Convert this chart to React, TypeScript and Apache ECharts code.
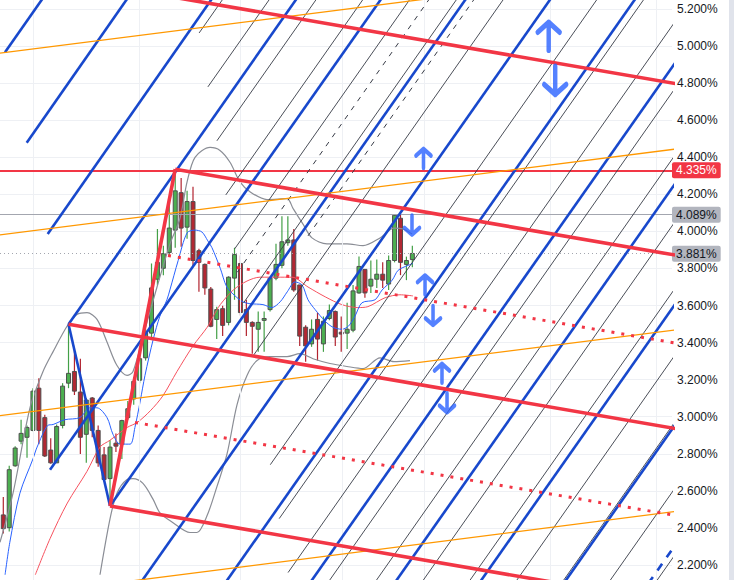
import React, { useEffect, useRef } from "react";
import * as echarts from "echarts";

// ---- candles (weekly yield, %) ----
const opens = [2.470, 2.401, 2.735, 2.868, 2.889, 2.926, 3.154, 2.995, 2.820, 2.751, 2.953, 3.181, 3.244, 3.133, 2.905, 3.101, 2.926, 2.794, 2.666, 2.857, 2.852, 2.995, 3.096, 3.197, 3.318, 3.451, 3.742, 3.801, 3.886, 4.007, 4.209, 4.023, 4.161, 3.896, 3.822, 3.689, 3.525, 3.583, 3.509, 3.748, 3.827, 3.578, 3.509, 3.472, 3.520, 3.578, 3.748, 3.817, 3.939, 3.954, 3.711, 3.483, 3.393, 3.525, 3.393, 3.530, 3.568, 3.456, 3.451, 3.467, 3.668, 3.795, 3.705, 3.742, 3.769, 3.716, 3.843, 4.071, 3.822, 3.848];
const closes = [2.396, 2.714, 2.831, 2.910, 2.942, 3.138, 2.926, 2.788, 2.751, 2.947, 3.165, 3.234, 3.138, 2.889, 3.090, 2.926, 2.751, 2.661, 2.836, 2.841, 2.979, 3.043, 3.191, 3.313, 3.451, 3.695, 3.833, 3.880, 4.018, 4.219, 4.018, 4.161, 3.843, 3.833, 3.695, 3.488, 3.578, 3.493, 3.753, 3.875, 3.562, 3.509, 3.488, 3.509, 3.530, 3.748, 3.822, 3.944, 3.954, 3.684, 3.435, 3.382, 3.472, 3.419, 3.515, 3.573, 3.430, 3.446, 3.472, 3.679, 3.811, 3.668, 3.742, 3.769, 3.737, 3.843, 4.087, 3.833, 3.843, 3.881];
const lows = [2.370, 2.380, 2.730, 2.852, 2.778, 2.921, 2.852, 2.783, 2.746, 2.751, 2.937, 3.154, 3.117, 2.799, 2.751, 2.889, 2.730, 2.651, 2.518, 2.810, 2.772, 2.984, 3.064, 3.181, 3.303, 3.419, 3.711, 3.764, 3.864, 3.912, 3.917, 3.960, 3.811, 3.674, 3.658, 3.483, 3.419, 3.435, 3.493, 3.631, 3.546, 3.435, 3.340, 3.350, 3.350, 3.568, 3.737, 3.801, 3.923, 3.674, 3.382, 3.297, 3.377, 3.303, 3.350, 3.520, 3.382, 3.350, 3.366, 3.456, 3.663, 3.642, 3.668, 3.695, 3.695, 3.684, 3.833, 3.764, 3.737, 3.806];
const highs = [2.566, 2.735, 2.841, 2.984, 2.953, 3.154, 3.207, 3.011, 2.884, 2.958, 3.181, 3.499, 3.366, 3.313, 3.101, 3.106, 2.953, 2.836, 2.873, 2.910, 2.984, 3.085, 3.212, 3.340, 3.472, 3.827, 4.013, 3.923, 4.177, 4.336, 4.288, 4.219, 4.241, 3.907, 3.827, 3.700, 3.594, 3.599, 3.758, 3.912, 3.870, 3.631, 3.515, 3.568, 3.568, 3.753, 3.933, 4.082, 4.082, 4.013, 3.711, 3.493, 3.525, 3.562, 3.541, 3.605, 3.573, 3.541, 3.615, 3.711, 3.864, 3.795, 3.843, 3.848, 3.833, 3.870, 4.089, 4.089, 3.864, 3.923];

// ---- indicators [bar index, value] ----
const fastMA = [[0.3, 2.147], [1.1, 2.322], [2.8, 2.587], [5.0, 2.772], [5.7, 2.836], [7.5, 2.953], [8.4, 2.958], [10.4, 2.984], [12.9, 2.995], [14.6, 3.048], [15.8, 3.048], [17.5, 2.995], [18.5, 2.905], [19.7, 2.852], [21.4, 2.852], [22.2, 2.942], [23.1, 3.085], [23.9, 3.223], [25.3, 3.419], [26.4, 3.541], [27.6, 3.631], [28.1, 3.684], [29.5, 3.843], [31.0, 3.992], [32.3, 4.007], [33.5, 3.997], [34.5, 3.949], [35.2, 3.912], [36.6, 3.801], [37.7, 3.700], [39.1, 3.652], [40.4, 3.620], [41.6, 3.610], [43.8, 3.605], [45.3, 3.589], [46.7, 3.620], [47.9, 3.674], [49.2, 3.727], [50.4, 3.711], [51.4, 3.631], [52.6, 3.578], [54.3, 3.515], [55.6, 3.483], [57.1, 3.472], [58.2, 3.488], [59.3, 3.541], [60.5, 3.615], [62.7, 3.631], [63.9, 3.684], [65.6, 3.737], [66.6, 3.790], [68.3, 3.817], [69.1, 3.827]];
const slowMA = [[5.4, 2.147], [7.9, 2.343], [10.8, 2.534], [14.1, 2.704], [16.3, 2.836], [18.0, 2.873], [20.9, 2.942], [22.6, 2.969], [24.8, 3.032], [26.9, 3.112], [29.3, 3.244], [32.0, 3.382], [34.4, 3.483], [35.4, 3.541], [36.6, 3.605], [38.8, 3.684], [41.1, 3.732], [43.3, 3.753], [46.2, 3.753], [48.7, 3.753], [51.4, 3.700], [54.3, 3.647], [57.1, 3.605], [59.8, 3.589], [61.5, 3.594], [64.4, 3.642], [66.9, 3.658], [69.1, 3.652]];
const bandUpper = [[-0.56, 2.322], [1.64, 2.587], [4.5, 3.048], [6.7, 3.244], [8.38, 3.350], [10.75, 3.488], [12.43, 3.552], [14.12, 3.562], [15.81, 3.525], [17.49, 3.403], [19.18, 3.276], [20.87, 3.223], [21.88, 3.244], [23.9, 3.472], [25.93, 3.700], [28.12, 3.933], [29.81, 4.071], [31.0, 4.267], [32.34, 4.400], [34.87, 4.453], [36.55, 4.437], [38.24, 4.373], [39.93, 4.267], [41.61, 4.214], [44.48, 4.172], [47.86, 4.177], [48.87, 4.124], [50.56, 4.039], [52.07, 3.965], [54.6, 3.933], [57.98, 3.933], [60.68, 3.923], [63.55, 3.965], [65.9, 4.018], [67.42, 4.013], [68.94, 3.986]];
const bandLower = [[16.31, 2.147], [18.0, 2.449], [19.18, 2.587], [20.87, 2.661], [21.88, 2.666], [23.56, 2.640], [25.25, 2.555], [26.43, 2.481], [28.63, 2.428], [31.5, 2.375], [32.67, 2.375], [34.36, 2.465], [36.05, 2.624], [37.74, 2.799], [39.42, 3.064], [41.11, 3.223], [42.8, 3.303], [44.99, 3.324], [47.86, 3.324], [50.05, 3.340], [52.24, 3.313], [55.11, 3.287], [57.98, 3.271], [60.68, 3.260], [63.55, 3.318], [65.9, 3.297], [68.6, 3.303]];

// ---- drawings: each rail is [start, end] in [bar index, value] ----
const blueRails = [
  [[0.29, 4.967], [7.58, 5.3]], [[3.95, 4.479], [21.87, 5.3]], [[7.49, 3.986], [36.16, 5.3]],
  [[11, 3.499], [50.45, 5.3]], [[7.88, 2.714], [64.74, 5.3]], [[18, 2.518], [79.03, 5.3]],
  [[23.08, 2.1], [93.31, 5.3]], [[37.37, 2.1], [107.6, 5.3]], [[51.66, 2.1], [121.9, 5.3]],
  [[65.95, 2.1], [136.2, 5.3]], [[80.24, 2.1], [150.5, 5.3]], [[94.52, 2.1], [164.8, 5.3]],
];
const blueRailDashed = [[108.8, 2.1], [179.1, 5.3]];
const blueHandle = [[11, 3.499], [18, 2.518]];
const blackRails = [
  [[33.03, 5.071], [38.05, 5.3]], [[34.51, 4.780], [45.94, 5.3]], [[36.03, 4.489], [53.84, 5.3]],
  [[37.53, 4.197], [61.73, 5.3]], [[39.03, 3.906], [69.63, 5.3]], [[40.54, 3.615], [77.52, 5.3]],
  [[42.02, 3.323], [85.41, 5.3]], [[43.54, 3.032], [93.31, 5.3]], [[45.04, 2.741], [101.2, 5.3]],
  [[46.54, 2.450], [109.1, 5.3]], [[48.04, 2.159], [117.0, 5.3]], [[54.66, 2.1], [124.9, 5.3]],
  [[62.55, 2.1], [132.8, 5.3]], [[70.45, 2.1], [140.7, 5.3]], [[78.34, 2.1], [148.6, 5.3]],
  [[86.23, 2.1], [156.5, 5.3]], [[94.13, 2.1], [164.4, 5.3]], [[102.0, 2.1], [172.3, 5.3]],
  [[109.9, 2.1], [180.2, 5.3]],
];
const dashedRails = [[[39.49, 3.780], [72.87, 5.3]], [[51.4, 3.976], [80.46, 5.3]]];
const redRails = [
  [[26.0, 5.279], [124.3, 4.738]], [[29, 4.336], [124.3, 3.812]],
  [[11, 3.499], [124.3, 2.876]], [[18, 2.518], [124.3, 1.933]],
];
const redHandle = [[18, 2.518], [29, 4.336]];
const redDotted = [[[27.78, 3.870], [124.3, 3.337]], [[22.22, 2.969], [124.3, 2.407]]];
const orangeRails = [
  [[-2.24, 4.955], [124.3, 5.470]], [[-2.24, 3.974], [124.3, 4.489]],
  [[-2.24, 2.999], [124.3, 3.513]], [[-2.24, 2.016], [124.3, 2.533]],
];
const arrows = [
  { up: true, i: 92.0, v: 5.053, big: true }, { up: false, i: 93.1, v: 4.815, big: true },
  { up: true, i: 70.88, v: 4.394, big: false }, { up: false, i: 68.94, v: 4.034, big: false },
  { up: true, i: 71.14, v: 3.711, big: false }, { up: false, i: 72.49, v: 3.546, big: false },
  { up: true, i: 74.0, v: 3.234, big: false }, { up: false, i: 74.85, v: 3.075, big: false },
];
const swingHigh = 4.335;
const priorHigh = 4.089;
const lastClose = 3.881;
const monthGrid = [5.06, 22.9, 40.0, 57.1, 71.0, 92.2, 110.2];
const yMin = 2.0;
const yMax = 5.4;
const yStep = 0.2;

const FONT = "Liberation Sans";
const UP_PATH = "path://M2,14 L14,2 L26,14 M14,2 L14,36";
const DOWN_PATH = "path://M2,24 L14,36 L26,24 M14,2 L14,36";

function seg(points: number[][], color: string, width: number, type: any, z: number) {
  return {
    type: "line",
    data: points,
    showSymbol: false,
    symbol: "none",
    silent: true,
    clip: true,
    z,
    lineStyle: { color, width, type, cap: "butt" },
  };
}

export default function App() {
  const ref = useRef<HTMLDivElement>(null);
  useEffect(() => {
    if (!ref.current) return;
    const chart = echarts.init(ref.current, null, { renderer: "svg" });
    const candles = opens.map((o, k) => [k, o, closes[k], lows[k], highs[k]]);

    const series: any[] = [];
    series.push({
      type: "line",
      data: [],
      silent: true,
      z: 0,
      markLine: {
        silent: true,
        symbol: ["none", "none"],
        label: { show: false },
        lineStyle: { color: "#eef0f4", width: 1, type: "solid" },
        data: monthGrid.map((x) => ({ xAxis: x })),
      },
    });
    series.push({
      type: "custom",
      data: candles,
      encode: { x: 0, y: [1, 2, 3, 4] },
      z: 3,
      clip: true,
      renderItem: (params: any, api: any) => {
        const i = api.value(0);
        const o = api.value(1);
        const c = api.value(2);
        const l = api.value(3);
        const h = api.value(4);
        const up = c >= o;
        const pO = api.coord([i, o]);
        const pC = api.coord([i, c]);
        const pL = api.coord([i, l]);
        const pH = api.coord([i, h]);
        const w = 4;
        const top = Math.min(pO[1], pC[1]);
        const hgt = Math.max(1, Math.abs(pO[1] - pC[1]));
        return {
          type: "group",
          children: [
            { type: "line", shape: { x1: pH[0], y1: pH[1], x2: pL[0], y2: pL[1] }, style: { stroke: up ? "#43a047" : "#b2232f", lineWidth: 1.2 } },
            { type: "rect", shape: { x: pO[0] - w / 2, y: top, width: w, height: hgt }, style: { fill: up ? "#4caf50" : "#b22833", stroke: "#4f4f4f", lineWidth: 1 } },
          ],
        };
      },
    });
    // indicators
    series.push({ type: "line", data: bandUpper, showSymbol: false, symbol: "none", smooth: 0.3, silent: true, z: 4, lineStyle: { color: "#8a8d95", width: 1.2 } });
    series.push({ type: "line", data: bandLower, showSymbol: false, symbol: "none", smooth: 0.3, silent: true, z: 4, lineStyle: { color: "#8a8d95", width: 1.2 } });
    series.push({ type: "line", data: slowMA, showSymbol: false, symbol: "none", smooth: 0.3, silent: true, z: 4, lineStyle: { color: "#f7525f", width: 1 } });
    series.push({ type: "line", data: fastMA, showSymbol: false, symbol: "none", smooth: 0.3, silent: true, z: 4, lineStyle: { color: "#2962ff", width: 1 } });
    // drawings
    blackRails.forEach((r) => series.push(seg(r, "#363a45", 0.9, "solid", 5)));
    dashedRails.forEach((r) => series.push(seg(r, "#363a45", 1, [5, 6], 5)));
    blueRails.forEach((r) => series.push(seg(r, "#1848cc", 2.6, "solid", 6)));
    series.push(seg(blueRailDashed, "#1848cc", 2.6, [8, 8], 6));
    series.push(seg(blueHandle, "#1848cc", 2.6, "solid", 6));
    orangeRails.forEach((r) => series.push(seg(r, "#ff9800", 1.3, "solid", 6)));
    redDotted.forEach((r) => series.push(seg(r, "#f23645", 3, [3, 7], 7)));
    redRails.forEach((r) => series.push(seg(r, "#f23645", 3.6, "solid", 7)));
    series.push(seg(redHandle, "#f23645", 3.6, "solid", 7));
    // price lines with axis tags
    const tag = (bg: string, fg: string, v: number) => ({
      show: true, position: "end", distance: 0, formatter: v.toFixed(3) + "%", backgroundColor: bg, color: fg,
      padding: [2, 4, 2, 4], borderRadius: 2, fontSize: 12, fontFamily: FONT,
    });
    series.push({
      type: "line",
      data: [],
      silent: true,
      z: 8,
      markLine: {
        silent: true,
        symbol: ["none", "none"],
        data: [
          { yAxis: swingHigh, lineStyle: { color: "#f23645", width: 2, type: "solid" }, label: tag("#f23645", "#ffffff", swingHigh) },
          { yAxis: priorHigh, lineStyle: { color: "#a3a6af", width: 1, type: "solid" }, label: tag("#b2b5be", "#131722", priorHigh) },
          { yAxis: lastClose, lineStyle: { color: "#a3a6af", width: 1, type: [1, 3] }, label: tag("#b2b5be", "#131722", lastClose) },
        ],
      },
    });
    series.push({
      type: "scatter",
      silent: true,
      z: 9,
      data: arrows.map((a) => ({
        value: [a.i, a.v],
        symbol: a.up ? UP_PATH : DOWN_PATH,
        symbolSize: a.big ? [22, 28] : [15, 19],
        itemStyle: { color: "rgba(0,0,0,0)", borderColor: "#2962ff", borderWidth: a.big ? 5 : 4, borderCap: "round", borderJoin: "round" },
      })),
    });

    chart.setOption({
      animation: false,
      backgroundColor: "#ffffff",
      textStyle: { fontFamily: FONT },
      grid: { left: 0, right: 62, top: 0, bottom: 0, containLabel: false },
      xAxis: { type: "value", min: -0.557, max: 112.8, show: false },
      yAxis: {
        type: "value",
        position: "right",
        min: yMin,
        max: yMax,
        interval: yStep,
        axisLine: { show: false },
        axisTick: { show: false },
        splitLine: { show: true, lineStyle: { color: "#eef0f4", width: 1 } },
        axisLabel: { color: "#131722", fontSize: 12, fontFamily: FONT, margin: 5, formatter: (v: number) => v.toFixed(3) + "%" },
      },
      graphic: [{ type: "rect", left: 729, top: 0, shape: { width: 5, height: 700 }, style: { fill: "#e0e3eb" }, silent: true }],
      series,
    });
    return () => chart.dispose();
  }, []);
  return (
    <div style={{ position: "fixed", left: 0, top: 0, width: 734, height: 580, overflow: "hidden", background: "#fff" }}>
      <div ref={ref} style={{ position: "absolute", left: 0, top: -34, width: 734, height: 642 }} />
    </div>
  );
}
